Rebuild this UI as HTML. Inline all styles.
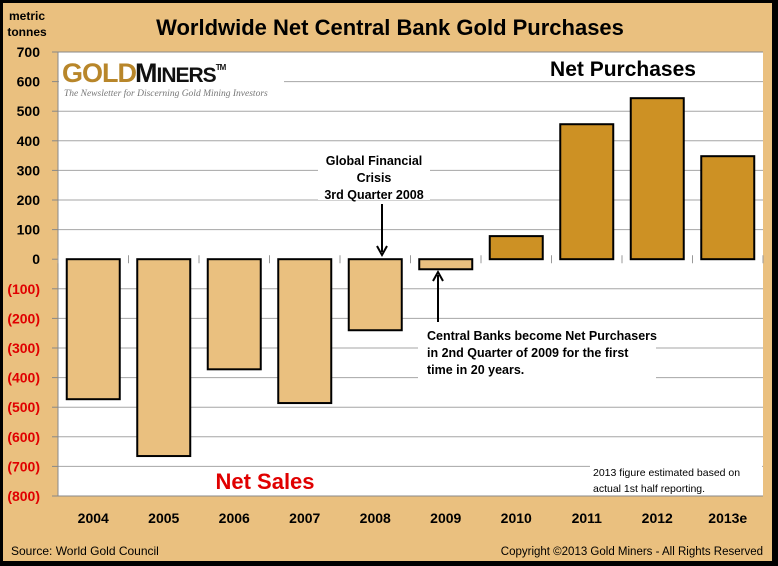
<!DOCTYPE html>
<html><head><meta charset="utf-8"><style>
html,body{margin:0;padding:0;}
body{width:778px;height:566px;overflow:hidden;background:#000;}
svg{display:block;font-family:"Liberation Sans",sans-serif;}
</style></head><body>
<svg id="chart" width="778" height="566">
<rect x="3" y="3" width="769" height="558" fill="#eac07f" stroke="none"/>
<rect x="58" y="52" width="705" height="444" fill="#fff"/>
<g id="grid"></g>
<g id="bars"></g>
<g id="yticks"></g>
<g id="xticks"></g>
<text x="390" y="35" text-anchor="middle" font-size="22" font-weight="bold" fill="#000">Worldwide Net Central Bank Gold Purchases</text>
<text x="25" y="20" text-anchor="middle" font-size="12" font-weight="bold"><tspan x="27" dy="0">metric</tspan><tspan x="27" dy="16">tonnes</tspan></text>
<g>
<rect x="59" y="53" width="225" height="50" fill="#fff"/>
<text x="62" y="82" font-size="27" font-weight="bold" fill="#b8862a" font-family="Liberation Sans Narrow,Liberation Sans,sans-serif" letter-spacing="-1">GOLD</text>
<text x="135" y="82" font-size="27" font-weight="bold" fill="#111" letter-spacing="-1">M<tspan font-size="21">INERS</tspan><tspan font-size="8" dy="-12">TM</tspan></text>
<text x="64" y="96" font-size="9.5" font-style="italic" fill="#777" font-family="Liberation Serif,serif">The Newsletter for Discerning Gold Mining Investors</text>
</g>
<text x="623" y="76" text-anchor="middle" font-size="21" font-weight="bold" fill="#000">Net Purchases</text>
<text x="265" y="489" text-anchor="middle" font-size="22" font-weight="bold" fill="#e00000">Net Sales</text>
<g>
<rect x="318" y="150" width="112" height="50" fill="#fff"/>
<text text-anchor="middle" font-size="12.5" font-weight="bold" fill="#000"><tspan x="374" y="165">Global Financial</tspan><tspan x="374" y="182">Crisis</tspan><tspan x="374" y="199">3rd Quarter 2008</tspan></text>
<line x1="382" y1="204" x2="382" y2="252" stroke="#000" stroke-width="2"/>
<path d="M377,246 L382,255 L387,246" fill="none" stroke="#000" stroke-width="2"/>
</g>
<g>
<rect x="418" y="322" width="238" height="58" fill="#fff"/>
<text font-size="12.5" font-weight="bold" fill="#000"><tspan x="427" y="340">Central Banks become Net Purchasers</tspan><tspan x="427" y="357">in 2nd Quarter of 2009 for the first</tspan><tspan x="427" y="374">time in 20 years.</tspan></text>
<line x1="438" y1="322" x2="438" y2="275" stroke="#000" stroke-width="2"/>
<path d="M433,281 L438,272 L443,281" fill="none" stroke="#000" stroke-width="2"/>
</g>
<g>
<rect x="590" y="462" width="172" height="33" fill="#fff"/>
<text font-size="10.5" fill="#000"><tspan x="593" y="476">2013  figure estimated based on</tspan><tspan x="593" y="492">actual 1st half reporting.</tspan></text>
</g>
<text x="11" y="555" font-size="12" fill="#000">Source:  World Gold Council</text>
<text x="763" y="555" text-anchor="end" font-size="11.5" fill="#000">Copyright ©2013  Gold Miners - All Rights Reserved</text>
<rect x="1.5" y="1.5" width="772" height="561" fill="none" stroke="#000" stroke-width="3"/>
</svg>
<script>
const categories=["2004","2005","2006","2007","2008","2009","2010","2011","2012","2013e"];
const values=[-473,-665,-372,-486,-240,-34,78,456,544,348];
const yTicks=[700,600,500,400,300,200,100,0,-100,-200,-300,-400,-500,-600,-700,-800];
const NS="http://www.w3.org/2000/svg";
const L=58,R=763,T=52,B=496,yMax=700,yMin=-800;
function y(v){return T+(yMax-v)/(yMax-yMin)*(B-T);}
const bw=(R-L)/categories.length;
function xc(i){return L+bw*(i+0.5);}
function mk(tag,attrs,parent,txt){const e=document.createElementNS(NS,tag);for(const k in attrs)e.setAttribute(k,attrs[k]);if(txt!==undefined)e.textContent=txt;document.getElementById(parent).appendChild(e);return e;}
yTicks.forEach(v=>{
  if(v!==0&&v!==yMax&&v!==yMin){const g=mk('line',{x1:L,x2:R,y1:y(v),y2:y(v),stroke:'#a6a6a6','stroke-width':1},'grid');
  
  }
  const tk=mk('line',{x1:L-6,x2:L,y1:y(v),y2:y(v),stroke:'#888','stroke-width':1},'yticks');
  
  
  const lbl=v<0?'('+(-v)+')':String(v);
  const t=mk('text',{x:40,y:y(v)+5,'text-anchor':'end','font-size':14,'font-weight':'bold',fill:v<0?'#e00000':'#000'},'yticks',lbl);
  
  
});
mk('line',{x1:L,x2:L,y1:T,y2:B,stroke:'#888'},'grid');
mk('line',{x1:L,x2:R,y1:B,y2:B,stroke:'#888'},'grid');
mk('line',{x1:L,x2:R,y1:T,y2:T,stroke:'#888'},'grid');
for(let i=0;i<=categories.length;i++){
  const m=mk('line',{x1:L+bw*i,x2:L+bw*i,y1:y(0)-4,y2:y(0)+4,stroke:'#999'},'xticks');
  
  
}
categories.forEach((c,i)=>{
  const v=values[i],w=53;
  const r=mk('rect',{x:xc(i)-w/2,y:Math.min(y(v),y(0)),width:w,height:Math.abs(y(v)-y(0)),fill:v<0?'#eac07f':'#cd9124',stroke:'#000','stroke-width':2},'bars');
  
  
  const t=mk('text',{x:xc(i),y:523,'text-anchor':'middle','font-size':14,'font-weight':'bold',fill:'#000'},'xticks',c);
  
  
});
</script>
</body></html>
